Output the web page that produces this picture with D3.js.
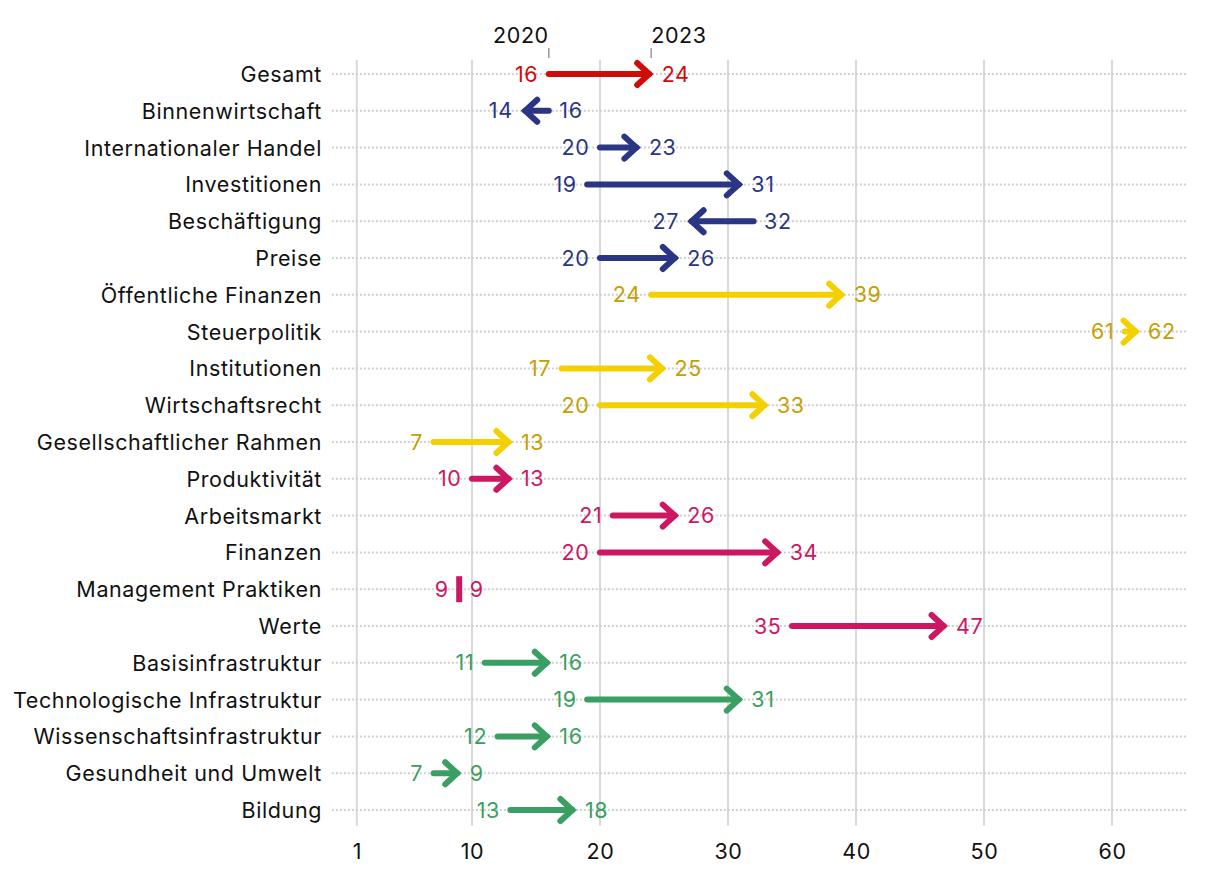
<!DOCTYPE html>
<html>
<head>
<meta charset="utf-8">
<script src="https://cdn.jsdelivr.net/npm/d3@7"></script>
<style>
  html, body { margin: 0; padding: 0; background: #fff; }
  svg text { font-family: Inter, "Noto Sans", sans-serif; letter-spacing: 0.6px; }
</style>
</head>
<body>
<svg id="chart" width="1220" height="874"></svg>
<script>
// ---- data ----
const categories = [
  "Gesamt", "Binnenwirtschaft", "Internationaler Handel", "Investitionen", "Beschäftigung", "Preise",
  "Öffentliche Finanzen", "Steuerpolitik", "Institutionen", "Wirtschaftsrecht", "Gesellschaftlicher Rahmen",
  "Produktivität", "Arbeitsmarkt", "Finanzen", "Management Praktiken", "Werte",
  "Basisinfrastruktur", "Technologische Infrastruktur", "Wissenschaftsinfrastruktur", "Gesundheit und Umwelt", "Bildung"
];
const values2020 = [16, 16, 20, 19, 32, 20, 24, 61, 17, 20, 7, 10, 21, 20, 9, 35, 11, 19, 12, 7, 13];
const values2023 = [24, 14, 23, 31, 27, 26, 39, 62, 25, 33, 13, 13, 26, 34, 9, 47, 16, 31, 16, 9, 18];
const groups = ["total", "econ", "econ", "econ", "econ", "econ",
  "gov", "gov", "gov", "gov", "gov",
  "biz", "biz", "biz", "biz", "biz",
  "infra", "infra", "infra", "infra", "infra"];
const groupNames = ["total", "econ", "gov", "biz", "infra"];
const lineColors = ["#d10a0a", "#2a3583", "#f5d000", "#cc1862", "#3b9e62"];
const textColors = ["#d10a0a", "#2a3583", "#c4a000", "#cc1862", "#3b9e62"];
const xTicks = [1, 10, 20, 30, 40, 50, 60];
const yearLabels = ["2020", "2023"];

const data = categories.map((c, i) => ({
  cat: c, a: values2020[i], b: values2023[i], g: groups[i]
}));

const FS = 21.5;
const svg = d3.select("#chart");
const x = d3.scaleLinear().domain([-1, 66]).range([331.2, 1188.8]);
const y = d3.scalePoint().domain(categories).range([74, 810]);
const lineColor = d3.scaleOrdinal().domain(groupNames).range(lineColors);
const textColor = d3.scaleOrdinal().domain(groupNames).range(textColors);

const gridTop = y(categories[0]) - 14;
const gridBottom = y(categories[categories.length - 1]) + 16;

// vertical grid
svg.append("g").selectAll("line").data(xTicks).join("line")
  .attr("x1", d => x(d)).attr("x2", d => x(d))
  .attr("y1", gridTop).attr("y2", gridBottom)
  .attr("stroke", "#d9d9d9").attr("stroke-width", 2);

// horizontal dotted grid
svg.append("g").selectAll("line").data(categories).join("line")
  .attr("x1", x(-0.95)).attr("x2", x(65.8))
  .attr("y1", d => y(d)).attr("y2", d => y(d))
  .attr("stroke", "#cfcfcf").attr("stroke-width", 2)
  .attr("stroke-dasharray", "2,2");

// x axis labels
const xAxis = d3.axisBottom(x).tickValues(xTicks).tickSize(0).tickPadding(0).tickFormat(d3.format("d"));
const xg = svg.append("g").attr("transform", `translate(0,${gridBottom + 18})`).call(xAxis);
xg.attr("font-family", null).attr("font-size", null);
xg.select(".domain").remove();
xg.selectAll("text").attr("font-size", FS).attr("fill", "#111").attr("dy", "0.71em");

// y axis labels
const yAxis = d3.axisLeft(y).tickSize(0).tickPadding(0);
const yg = svg.append("g").attr("transform", `translate(322,0)`).call(yAxis);
yg.attr("font-family", null).attr("font-size", null);
yg.select(".domain").remove();
yg.selectAll("text").attr("font-size", FS).attr("fill", "#111").attr("dy", "0.35em");

// year labels
const first = data[0];
const yearG = svg.append("g");
[first.a, first.b].forEach((v, i) => {
  yearG.append("line").attr("x1", x(v)).attr("x2", x(v))
    .attr("y1", 48).attr("y2", 58).attr("stroke", "#999").attr("stroke-width", 1.5);
  yearG.append("text").attr("x", x(v)).attr("y", 43)
    .attr("text-anchor", i === 0 ? "end" : "start")
    .attr("font-size", FS).attr("fill", "#111").text(yearLabels[i]);
});

// arrows
const marks = svg.append("g");
data.forEach(d => {
  const yy = y(d.cat);
  const col = lineColor(d.g);
  const g = marks.append("g");
  if (d.a === d.b) {
    g.append("rect").attr("x", x(d.a) - 3).attr("y", yy - 13)
      .attr("width", 6).attr("height", 26).attr("fill", col);
  } else {
    const dir = d.b > d.a ? 1 : -1;
    const tip = x(d.b) - dir * 2;
    g.append("line").attr("x1", x(d.a)).attr("x2", tip)
      .attr("y1", yy).attr("y2", yy)
      .attr("stroke", col).attr("stroke-width", 6).attr("stroke-linecap", "round");
    g.append("path")
      .attr("d", d3.line()([[tip - dir * 12, yy - 11], [tip, yy], [tip - dir * 12, yy + 11]]))
      .attr("fill", "none").attr("stroke", col).attr("stroke-width", 6)
      .attr("stroke-linejoin", "miter").attr("stroke-linecap", "round");
  }
  const lo = Math.min(d.a, d.b), hi = Math.max(d.a, d.b);
  g.append("text").attr("x", x(lo) - 10.5).attr("y", yy).attr("dy", "0.35em")
    .attr("text-anchor", "end").attr("font-size", FS).attr("fill", textColor(d.g)).text(lo);
  g.append("text").attr("x", x(hi) + 10.5).attr("y", yy).attr("dy", "0.35em")
    .attr("text-anchor", "start").attr("font-size", FS).attr("fill", textColor(d.g)).text(hi);
});
</script>
</body>
</html>
